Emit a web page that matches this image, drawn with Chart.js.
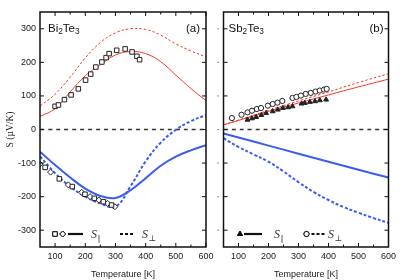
<!DOCTYPE html>
<html>
<head>
<meta charset="utf-8">
<script src="https://cdn.jsdelivr.net/npm/chart.js@4.4.1/dist/chart.umd.min.js"></script>
<style>
  html, body { margin: 0; padding: 0; background: #fff; }
  #wrap { position: relative; width: 407px; height: 280px; overflow: hidden; background: #fff; }
  canvas { position: absolute; top: 0; }
  #chartA { left: 0; }
  #chartB { left: 212px; }
</style>
</head>
<body>
<div id="wrap">
  <canvas id="chartA" width="216" height="280"></canvas>
  <canvas id="chartB" width="195" height="280"></canvas>
</div>
<script>
// 축 눈금
const xTicks = [100, 200, 300, 400, 500, 600];
const xMinor = [100, 150, 200, 250, 300, 350, 400, 450, 500, 550];
const yTicks = [-300, -200, -100, 0, 100, 200, 300];

// 기준선 (S = 0)
const zeroT = [50, 600];
const zeroS = [0, 0];

// (a) Bi2Te3 계산 곡선
const biT = [50, 100, 150, 200, 250, 300, 350, 400, 450, 500, 550, 600];
const biParP = [39, 62, 112, 160, 193, 222, 232, 226, 202, 162, 122, 86];      // 빨강 실선
const biPerpP = [70, 105, 156, 213, 259, 288, 300, 298, 281, 255, 234, 216];  // 빨강 점선
const biParN = [-66, -106, -143, -176, -198, -204, -181, -145, -108, -81, -62, -47];  // 파랑 실선
const biPerpN = [-80, -130, -170, -200, -220, -230, -169, -95, -39, -1, 25, 43];       // 파랑 점선

// (a) 실험값
const biSqPosT = [100, 111, 131, 153, 177, 201, 218, 235, 255, 269, 279, 304, 332, 355, 371, 380];
const biSqPosS = [69, 73, 89, 103, 121, 147, 165, 186, 201, 214, 226, 236, 240, 231, 218, 208];
const biSqNegT = [67, 114, 157, 199, 230, 260, 287];
const biSqNegS = [-113, -147, -170, -193, -205, -215, -225];
const biDiaT = [50, 85, 144, 188, 216, 245, 274, 298];
const biDiaS = [-103, -127, -165, -187, -200, -210, -220, -230];

// (b) Sb2Te3 계산 곡선
const sbT = [50, 100, 200, 300, 400, 500, 600];
const sbParP = [14, 27, 54, 79, 103, 127, 150];
const sbPerpP = [14, 28, 57, 85, 112, 140, 166];
const sbParN = [-12, -24, -48, -72, -96, -120, -143];
const sbT2 = [50, 100, 150, 200, 250, 300, 350, 400, 450, 500, 550, 600];
const sbPerpN = [-26, -52, -74, -96, -125, -157, -186, -210, -231, -248, -264, -278];

// (b) 실험값
const sbCircT = [78, 110, 130, 145, 161, 175, 198, 214, 230, 246, 280, 293, 308, 324, 341, 357, 371, 385, 394];
const sbCircS = [34, 44, 51, 56, 61, 64, 71, 76, 80, 85, 94, 97, 101, 106, 109, 113, 116, 119, 121];
const sbTriT = [130, 145, 159, 176, 192, 214, 231, 248, 265, 280, 310, 321, 338, 355, 371, 392];
const sbTriS = [29, 33, 37, 43, 49, 54, 59, 64, 66, 69, 77, 79, 82, 84, 87, 89];

const RED = '#f4382e';
const BLUE = '#3a5cf0';
const SANS = "'Liberation Sans', Arial, sans-serif";
const SERIF = "'Liberation Serif', 'DejaVu Serif', serif";

const pts = (xs, ys) => xs.map((x, i) => ({ x: x, y: ys[i] }));

function curve(xs, ys, color, width, dash) {
    return {
        data: pts(xs, ys),
        borderColor: color,
        borderWidth: width,
        borderDash: dash || [],
        pointRadius: 0,
        tension: 0.4,
        fill: false
    };
}

function marks(xs, ys, style, radius, filled) {
    return {
        data: pts(xs, ys),
        showLine: false,
        pointStyle: style,
        pointRadius: radius,
        pointBorderWidth: 1,
        pointBorderColor: '#222',
        pointBackgroundColor: filled ? '#222' : '#fff'
    };
}

// 부분 아래첨자 텍스트
function drawSubText(ctx, parts, x, y, size) {
    let cx = x;
    parts.forEach((p, i) => {
        const sub = i % 2 === 1;
        ctx.font = (sub ? size * 0.72 : size) + 'px ' + SANS;
        ctx.fillText(p, cx, sub ? y + size * 0.22 : y);
        cx += ctx.measureText(p).width;
    });
}

function drawSymbol(ctx, sub, x, y) {
    ctx.fillStyle = '#333';
    ctx.font = 'italic 12px ' + SERIF;
    ctx.fillText('S', x, y);
    const w = ctx.measureText('S').width;
    ctx.font = '8px ' + SERIF;
    ctx.fillText(sub, x + w + 0.5, y + 2.5);
}

// 테두리, 안쪽 눈금, 라벨, 범례
const framePlugin = {
    id: 'frame',
    afterDatasetsDraw(chart, args, opts) {
        const { ctx, chartArea: a } = chart;
        const x = chart.scales.x, y = chart.scales.y;
        ctx.save();
        ctx.strokeStyle = '#111';
        ctx.lineWidth = 1;
        ctx.beginPath();
        xMinor.concat([600]).forEach(v => {
            const px = x.getPixelForValue(v);
            const len = xTicks.includes(v) ? 4 : 2.5;
            ctx.moveTo(px, a.bottom); ctx.lineTo(px, a.bottom - len);
            ctx.moveTo(px, a.top); ctx.lineTo(px, a.top + len);
        });
        yTicks.forEach(v => {
            const py = y.getPixelForValue(v);
            ctx.moveTo(a.left, py); ctx.lineTo(a.left + 4, py);
            ctx.moveTo(a.right, py); ctx.lineTo(a.right - 4, py);
        });
        ctx.stroke();
        if (opts.outerTicks) {
            ctx.strokeStyle = '#999';
            ctx.beginPath();
            yTicks.forEach(v => {
                const py = y.getPixelForValue(v);
                ctx.moveTo(a.left - 6.5, py); ctx.lineTo(a.left - 4.5, py);
            });
            ctx.stroke();
        }
        ctx.strokeStyle = '#111';
        ctx.lineWidth = 1.5;
        ctx.strokeRect(a.left, a.top, a.right - a.left, a.bottom - a.top);

        // 제목
        ctx.fillStyle = '#111';
        ctx.textBaseline = 'alphabetic';
        ctx.textAlign = 'left';
        drawSubText(ctx, opts.title, a.left + opts.titleDx, a.top + 19.5, 11.5);
        ctx.font = '11.5px ' + SANS;
        ctx.textAlign = 'right';
        ctx.fillText(opts.tag, a.right - opts.tagDx, a.top + 19.5);
        ctx.textAlign = 'left';

        // 범례
        const ly = a.bottom - 13;
        const L = opts.legend;
        ctx.strokeStyle = '#111';
        ctx.lineWidth = 1;
        L.markers.forEach(m => {
            Chart.helpers.drawPoint(ctx, {
                pointStyle: m.style, radius: m.r, borderWidth: 1
            }, a.left + m.dx, ly);
            ctx.fillStyle = m.filled ? '#111' : '#fff';
            ctx.fill();
            ctx.stroke();
        });
        ctx.lineWidth = 2.2;
        ctx.beginPath();
        ctx.moveTo(a.left + L.solid[0], ly); ctx.lineTo(a.left + L.solid[1], ly);
        ctx.stroke();
        ctx.setLineDash([3, 2]);
        ctx.beginPath();
        ctx.moveTo(a.left + L.dashed[0], ly); ctx.lineTo(a.left + L.dashed[1], ly);
        ctx.stroke();
        ctx.setLineDash([]);
        drawSymbol(ctx, '||', a.left + L.par, ly + 4);
        drawSymbol(ctx, '\u22A5', a.left + L.perp, ly + 4);
        ctx.restore();
    }
};

function scaleOpts(showLabels, yWidth) {
    const tickFont = { family: SANS, size: 9 };
    return {
        x: {
            type: 'linear', min: 50, max: 600,
            afterBuildTicks: s => { s.ticks = xTicks.map(v => ({ value: v })); },
            afterFit: s => { s.height = 33; s.paddingLeft = 0; s.paddingRight = 0; },
            grid: { display: false, drawTicks: false },
            border: { display: false },
            ticks: { padding: 4, font: tickFont, color: '#222', maxRotation: 0, autoSkip: false },
            title: {
                display: true, text: 'Temperature [K]', color: '#222',
                font: { family: SANS, size: 9 }, padding: { top: 6.6, bottom: 0 }
            }
        },
        y: {
            type: 'linear', min: -350, max: 350,
            afterBuildTicks: s => { s.ticks = yTicks.map(v => ({ value: v })); },
            afterFit: s => { s.width = yWidth; s.paddingTop = 0; s.paddingBottom = 0; },
            grid: { display: false, drawTicks: false },
            border: { display: false },
            ticks: { display: showLabels, padding: 4, font: tickFont, color: '#222', autoSkip: false },
            title: {
                display: showLabels, text: 'S (\u00B5V/K)', color: '#222',
                font: { family: SERIF, size: 9.5 }, padding: { top: 4.6, bottom: 0 }
            }
        }
    };
}

function baseOptions(showLabels, yWidth, rightPad, frame) {
    return {
        responsive: false,
        animation: false,
        devicePixelRatio: 1,
        layout: { padding: { top: 12, right: rightPad, left: 0, bottom: 0 } },
        plugins: { legend: { display: false }, tooltip: { enabled: false }, frame: frame },
        scales: scaleOpts(showLabels, yWidth)
    };
}

new Chart(document.getElementById('chartA'), {
    type: 'line',
    data: {
        datasets: [
            marks(biSqPosT, biSqPosS, 'rect', 3.2, false),
            marks(biSqNegT, biSqNegS, 'rect', 3.2, false),
            marks(biDiaT, biDiaS, 'rectRot', 3, false),
            curve(biT, biParN, BLUE, 2),
            curve(biT, biPerpN, BLUE, 2, [3, 2]),
            curve(biT, biParP, RED, 1),
            curve(biT, biPerpP, RED, 1, [2.5, 2]),
            curve(zeroT, zeroS, '#333', 1.5, [4, 4])
        ]
    },
    options: baseOptions(true, 40, 10, {
        title: ['Bi', '2', 'Te', '3'], titleDx: 8, tag: '(a)', tagDx: 6,
        legend: {
            markers: [
                { style: 'rect', r: 3.2, dx: 15, filled: false },
                { style: 'rectRot', r: 3, dx: 22.7, filled: false }
            ],
            solid: [28, 43], par: 51, dashed: [80, 93], perp: 102
        }
    }),
    plugins: [framePlugin]
});

new Chart(document.getElementById('chartB'), {
    type: 'line',
    data: {
        datasets: [
            marks(sbCircT, sbCircS, 'circle', 2.6, false),
            marks(sbTriT, sbTriS, 'triangle', 2.8, true),
            curve(sbT, sbParN, BLUE, 2),
            curve(sbT2, sbPerpN, BLUE, 2, [3, 2]),
            curve(sbT, sbParP, RED, 1),
            curve(sbT, sbPerpP, RED, 1, [2.5, 2]),
            curve(zeroT, zeroS, '#333', 1.5, [4, 4])
        ]
    },
    options: baseOptions(false, 11.5, 18.5, {
        title: ['Sb', '2', 'Te', '3'], titleDx: 5, tag: '(b)', tagDx: 5, outerTicks: true,
        legend: {
            markers: [
                { style: 'triangle', r: 2.8, dx: 16.5, filled: true },
                { style: 'circle', r: 2.6, dx: 83, filled: false }
            ],
            solid: [20.5, 38.5], par: 50.5, dashed: [88, 101.5], perp: 104.5
        }
    }),
    plugins: [framePlugin]
});
</script>
</body>
</html>
